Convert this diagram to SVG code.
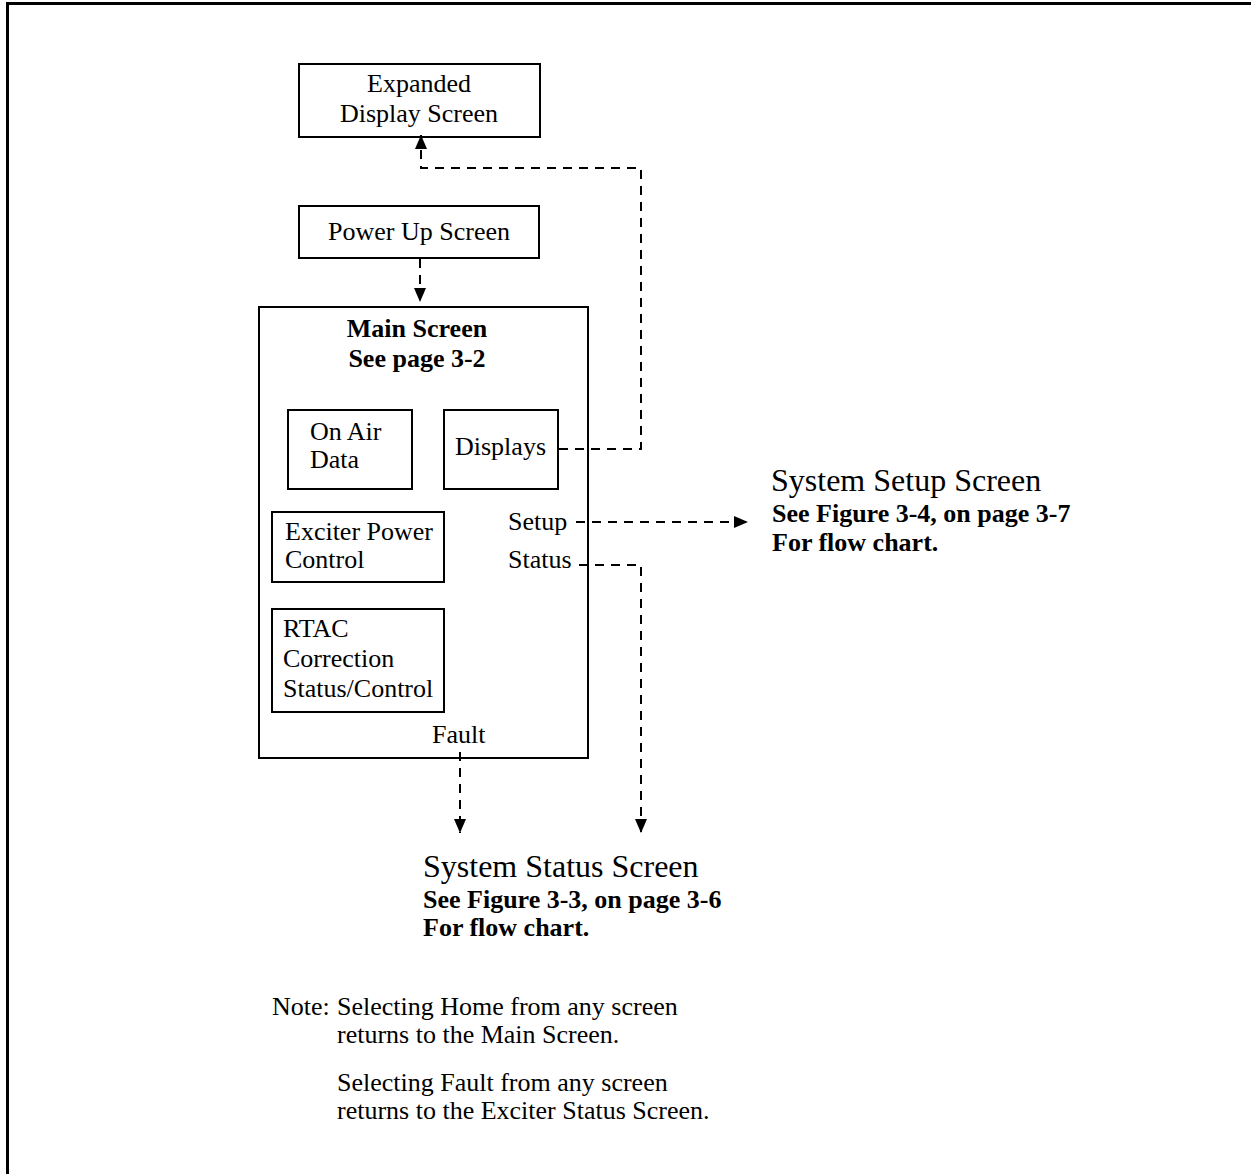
<svg xmlns="http://www.w3.org/2000/svg" width="1251" height="1174" viewBox="0 0 1251 1174">
  <style>
    .box { fill: #fff; stroke: #000; stroke-width: 2; }
    .t { font-family: "Liberation Serif", "Times New Roman", serif; font-size: 26px; fill: #000; }
    .b { font-weight: bold; }
    .big { font-size: 32px; }
    .dash { fill: none; stroke: #000; stroke-width: 2; stroke-dasharray: 9 7; }
    .frame { fill: none; stroke: #000; stroke-width: 3; }
  </style>
  <defs>
    <marker id="arrow" markerUnits="userSpaceOnUse" markerWidth="14" markerHeight="12" refX="14" refY="6" orient="auto">
      <path d="M0,0 L14,6 L0,12 Z" fill="#000"/>
    </marker>
  </defs>

  <rect width="1251" height="1174" fill="#fff"/>
  <!-- page frame: top and left rules -->
  <path class="frame" d="M7.5,1174 L7.5,3.5 L1251,3.5"/>

  <g id="expanded-display">
    <rect class="box" x="299" y="64" width="241" height="73"/>
    <text class="t" x="419" y="92" text-anchor="middle">Expanded</text>
    <text class="t" x="419" y="122" text-anchor="middle">Display Screen</text>
  </g>

  <g id="power-up">
    <rect class="box" x="299" y="206" width="240" height="52"/>
    <text class="t" x="419" y="240" text-anchor="middle">Power Up Screen</text>
  </g>

  <g id="main-screen">
    <rect class="box" x="259" y="307" width="329" height="451"/>
    <text class="t b" x="417" y="337" text-anchor="middle">Main Screen</text>
    <text class="t b" x="417" y="367" text-anchor="middle">See page 3-2</text>
    <text class="t" x="508" y="530">Setup</text>
    <text class="t" x="508" y="568">Status</text>
    <text class="t" x="432" y="743">Fault</text>
  </g>

  <g id="on-air-data">
    <rect class="box" x="288" y="410" width="124" height="79"/>
    <text class="t" x="310" y="440">On Air</text>
    <text class="t" x="310" y="468">Data</text>
  </g>

  <g id="displays">
    <rect class="box" x="444" y="410" width="114" height="79"/>
    <text class="t" x="455" y="455">Displays</text>
  </g>

  <g id="exciter-power">
    <rect class="box" x="272" y="512" width="172" height="70"/>
    <text class="t" x="285" y="540">Exciter Power</text>
    <text class="t" x="285" y="568">Control</text>
  </g>

  <g id="rtac">
    <rect class="box" x="272" y="609" width="172" height="103"/>
    <text class="t" x="283" y="637">RTAC</text>
    <text class="t" x="283" y="667">Correction</text>
    <text class="t" x="283" y="697">Status/Control</text>
  </g>

  <g id="system-setup">
    <text class="t big" x="771" y="491">System Setup Screen</text>
    <text class="t b" x="772" y="522">See Figure 3-4, on page 3-7</text>
    <text class="t b" x="772" y="551">For flow chart.</text>
  </g>

  <g id="system-status">
    <text class="t big" x="423" y="877">System Status Screen</text>
    <text class="t b" x="423" y="908">See Figure 3-3, on page 3-6</text>
    <text class="t b" x="423" y="936">For flow chart.</text>
  </g>

  <g id="note">
    <text class="t" x="272" y="1015">Note:</text>
    <text class="t" x="337" y="1015">Selecting Home from any screen</text>
    <text class="t" x="337" y="1043">returns to the Main Screen.</text>
    <text class="t" x="337" y="1091">Selecting Fault from any screen</text>
    <text class="t" x="337" y="1119">returns to the Exciter Status Screen.</text>
  </g>

  <g id="connectors">
    <!-- Power Up -> Main -->
    <path class="dash" d="M420,259 L420,302" marker-end="url(#arrow)"/>
    <!-- Displays -> Expanded Display -->
    <path class="dash" d="M559,449 L641,449 L641,168 L421,168 L421,135" marker-end="url(#arrow)"/>
    <!-- Setup -> System Setup -->
    <path class="dash" d="M576,522 L748,522" marker-end="url(#arrow)"/>
    <!-- Status -> System Status -->
    <path class="dash" d="M579,565 L641,565 L641,833" marker-end="url(#arrow)"/>
    <!-- Fault -> System Status -->
    <path class="dash" d="M460,752 L460,833" marker-end="url(#arrow)"/>
  </g>
</svg>
